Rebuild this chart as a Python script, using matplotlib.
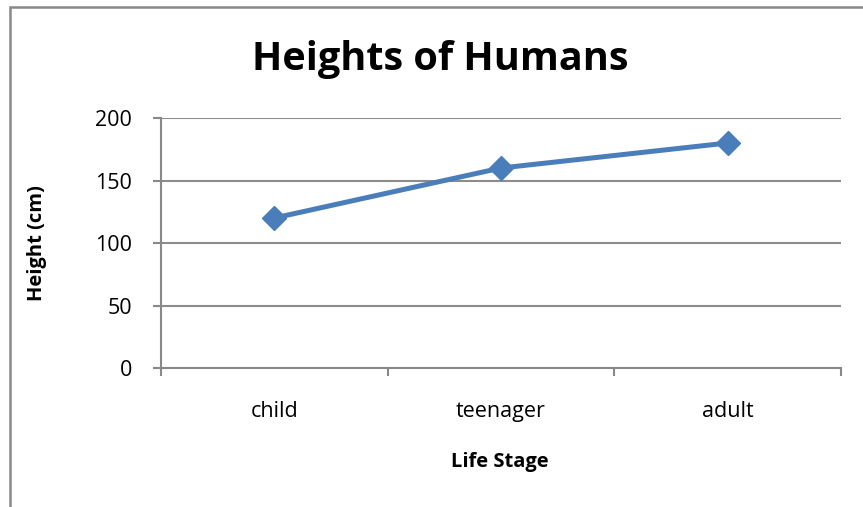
import matplotlib.pyplot as plt
from matplotlib.patches import Rectangle

stages = ["child", "teenager", "adult"]
heights = [120, 160, 180]

plt.rcParams['font.family'] = ['Open Sans', 'DejaVu Sans']

fig = plt.figure(figsize=(8.63, 5.07), dpi=100)
ax = fig.add_axes([161 / 863, 1 - 368 / 507, 680 / 863, 250 / 507])

# outer chart border (only left and top visible in the crop)
fig.patches.append(Rectangle((9.5 / 863, -0.1), 1.2, 1.1 - 7 / 507, transform=fig.transFigure,
                             fill=False, edgecolor="#888888", linewidth=1.8))

x = list(range(len(stages)))
ax.plot(x, heights, color="#4A7EBB", linewidth=3.6, marker="D", markersize=12,
        markerfacecolor="#4A7EBB", markeredgecolor="#4A7EBB", zorder=3)

ax.set_xlim(-0.5, len(stages) - 0.5)
ax.set_ylim(0, 200)
ax.set_yticks([0, 50, 100, 150, 200])
ax.set_xticks([i - 0.5 for i in range(len(stages) + 1)])
ax.set_xticklabels([])
ax.set_xticks(x, minor=True)
ax.set_xticklabels(stages, minor=True)
ax.tick_params(axis="x", which="minor", length=0, pad=24, labelsize=15.5)
ax.tick_params(axis="x", which="major", length=6, width=1.5, color="#888888", direction="out")
ax.tick_params(axis="y", length=6, width=1.5, color="#888888", labelsize=15.5, pad=15)

ax.grid(axis="y", color="#8c8c8c", linewidth=1.5)
ax.set_axisbelow(True)
for side in ["top", "right"]:
    ax.spines[side].set_visible(False)
for side in ["left", "bottom"]:
    ax.spines[side].set_color("#888888")
    ax.spines[side].set_linewidth(1.5)

fig.text(440 / 863, 1 - 60 / 507, "Heights of Humans", ha="center", va="center",
         fontsize=28.5, fontweight="bold")
fig.text(500 / 863, 1 - 462 / 507, "Life Stage", ha="center", va="center",
         fontsize=14.5, fontweight="bold")
fig.text(37 / 863, 1 - 243 / 507, "Height (cm)", ha="center", va="center",
         fontsize=14.5, fontweight="bold", rotation=90)

plt.savefig("out.png", dpi=100)
